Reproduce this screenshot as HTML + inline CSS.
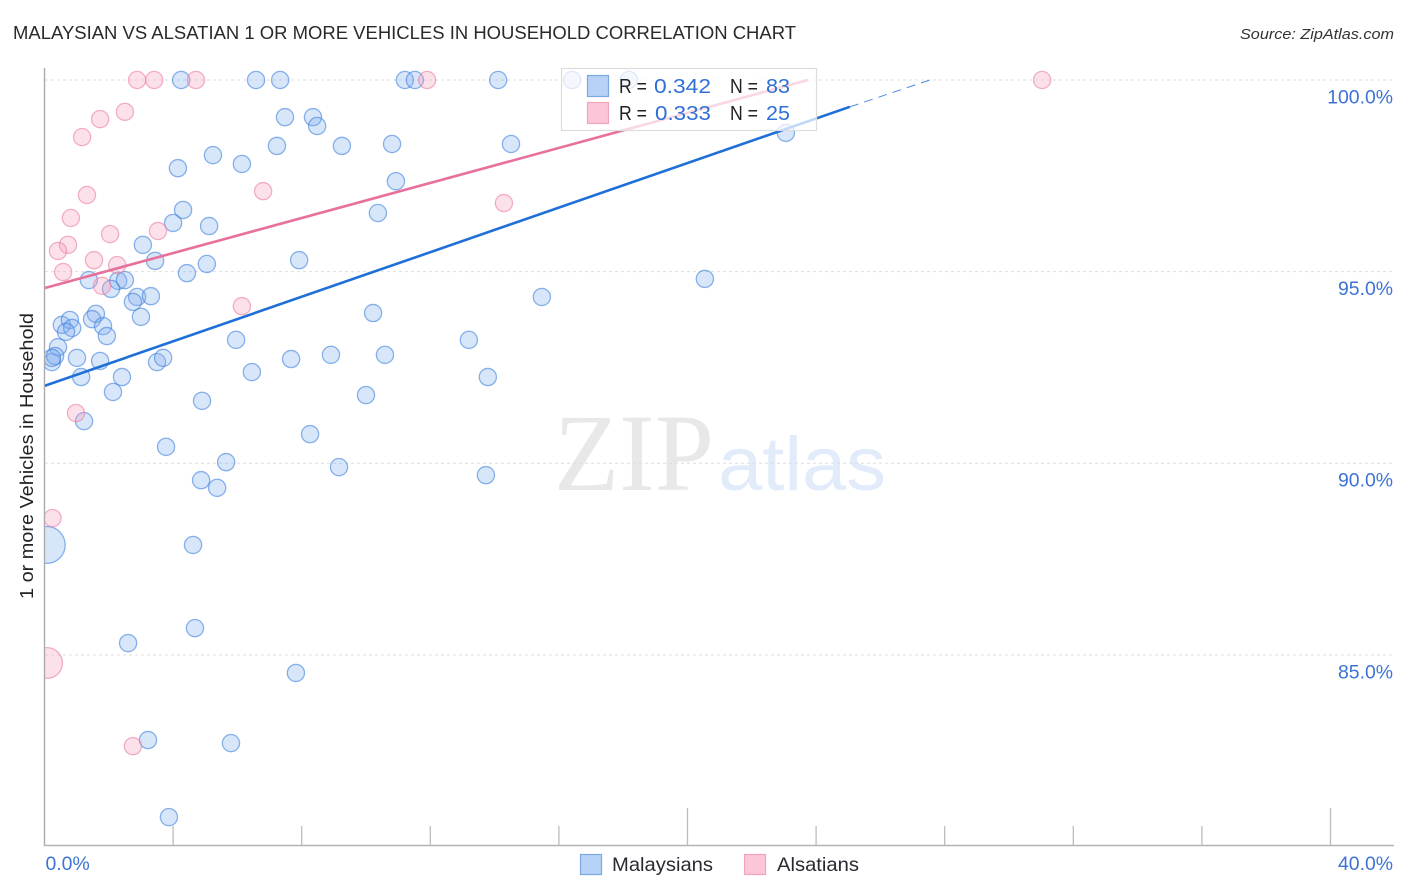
<!DOCTYPE html>
<html lang="en">
<head>
<meta charset="utf-8">
<title>Malaysian vs Alsatian 1 or More Vehicles in Household Correlation Chart</title>
<style>
html,body{margin:0;padding:0;background:#fff;width:1406px;height:892px;overflow:hidden}
svg{display:block;font-family:"Liberation Sans",sans-serif}
</style>
</head>
<body>
<svg id="chart" xmlns="http://www.w3.org/2000/svg" width="1406" height="892" viewBox="0 0 1406 892">
  <defs><clipPath id="plot-clip"><rect x="45" y="60" width="1349" height="785"/></clipPath></defs>
  <text x="13" y="39" font-size="18.5" fill="#2a2a2a" textLength="783" lengthAdjust="spacingAndGlyphs">MALAYSIAN VS ALSATIAN 1 OR MORE VEHICLES IN HOUSEHOLD CORRELATION CHART</text>
  <text x="1394" y="39" font-size="15" font-style="italic" fill="#333" text-anchor="end" textLength="154" lengthAdjust="spacingAndGlyphs">Source: ZipAtlas.com</text>
  <g>
    <text x="554" y="490" font-family="'Liberation Serif',serif" font-size="110" fill="#e8e8e8" textLength="160" lengthAdjust="spacingAndGlyphs">ZIP</text>
    <text x="718" y="490" font-size="76" fill="#e2ebf9" textLength="168" lengthAdjust="spacingAndGlyphs">atlas</text>
  </g>
  <g id="grid"></g>
  <g id="marks-blue" clip-path="url(#plot-clip)"></g>
  <g id="marks-pink" clip-path="url(#plot-clip)"></g>
  <g id="trends"></g>
  <g id="axes"></g>
  <text transform="translate(33,456) rotate(-90)" font-size="18.5" fill="#222" text-anchor="middle" textLength="286" lengthAdjust="spacingAndGlyphs">1 or more Vehicles in Household</text>
  <g>
    <rect x="561.5" y="68.5" width="255" height="62" fill="#fff" fill-opacity="0.72" stroke="#dcdcdc" stroke-width="1.2"/>
    <rect x="587.5" y="75.5" width="21" height="21" fill="#b7d2f7" stroke="#7aa8e2" stroke-width="1.2"/>
    <rect x="587.5" y="102.5" width="21" height="21" fill="#fcc6d8" stroke="#f2a3bd" stroke-width="1.2"/>
    <g font-size="20">
      <text x="619" y="93" fill="#222" textLength="28" lengthAdjust="spacingAndGlyphs">R =</text>
      <text x="654" y="93" fill="#2f6fd6" textLength="57" lengthAdjust="spacingAndGlyphs">0.342</text>
      <text x="730" y="93" fill="#222" textLength="28" lengthAdjust="spacingAndGlyphs">N =</text>
      <text x="766" y="93" fill="#2f6fd6" textLength="24" lengthAdjust="spacingAndGlyphs">83</text>
      <text x="619" y="120" fill="#222" textLength="28" lengthAdjust="spacingAndGlyphs">R =</text>
      <text x="655" y="120" fill="#2f6fd6" textLength="56" lengthAdjust="spacingAndGlyphs">0.333</text>
      <text x="730" y="120" fill="#222" textLength="28" lengthAdjust="spacingAndGlyphs">N =</text>
      <text x="766" y="120" fill="#2f6fd6" textLength="24" lengthAdjust="spacingAndGlyphs">25</text>
    </g>
  </g>
  <g>
    <rect x="580.5" y="854.5" width="21" height="20" fill="#b7d2f7" stroke="#7aa8e2" stroke-width="1.2"/>
    <text x="612" y="871" font-size="19.5" fill="#2a2a33" textLength="101" lengthAdjust="spacingAndGlyphs">Malaysians</text>
    <rect x="744.5" y="854.5" width="21" height="20" fill="#fcc6d8" stroke="#f2a3bd" stroke-width="1.2"/>
    <text x="777" y="871" font-size="19.5" fill="#2a2a33" textLength="82" lengthAdjust="spacingAndGlyphs">Alsatians</text>
  </g>
</svg>
<script>
const yTicks = [100, 95, 90, 85];
const yTickLabels = ["100.0%", "95.0%", "90.0%", "85.0%"];
const xTicks = [0, 4, 8, 12, 16, 20, 24, 28, 32, 36, 40];
const xMajorTicks = [20, 40];
const xEndLabels = ["0.0%", "40.0%"];

const blueX = [4.25,6.58,7.33,11.21,11.52,14.11,16.41,18.18,7.48,8.35,8.48,7.23,9.25,10.81,14.51,23.06,5.24,6.14,4.15,10.93,4.31,10.37,4.00,5.12,3.06,3.44,7.92,4.43,5.05,1.38,2.29,2.50,20.54,2.07,2.88,2.75,3.31,15.47,3.00,1.60,1.48,10.22,0.54,0.79,0.86,0.67,1.82,1.94,5.96,13.20,0.42,0.23,0.33,0.23,1.01,1.73,3.50,3.69,7.67,8.91,10.59,6.45,1.14,2.41,13.79,2.13,4.90,10.00,1.23,8.26,3.78,5.65,9.16,4.87,13.73,5.37,4.62,0.07,4.68,2.60,7.82,3.22,5.80,3.87];
const blueY = [100,100,100,100,100,100,100,100,99.03,99.03,98.80,98.28,98.28,98.33,98.33,98.62,98.04,97.81,97.70,97.36,96.61,96.53,96.27,96.19,95.70,95.28,95.30,94.96,95.20,94.78,94.76,94.78,94.81,94.55,94.34,94.21,94.36,94.34,93.82,93.90,93.76,93.92,93.61,93.74,93.53,93.43,93.58,93.32,93.22,93.22,93.03,92.64,92.80,92.75,92.75,92.67,92.64,92.75,92.72,92.83,92.83,92.38,92.25,92.25,92.25,91.86,91.63,91.78,91.10,90.76,90.43,90.03,89.90,89.56,89.69,89.36,87.87,87.87,85.70,85.31,84.53,82.78,82.70,80.77];
const blueWeights = [1,1,1,1,1,1,1,1,1,1,1,1,1,1,1,1,1,1,1,1,1,1,1,1,1,1,1,1,1,1,1,1,1,1,1,1,1,1,1,1,1,1,1,1,1,1,1,1,1,1,1,1,1,1,1,1,1,1,1,1,1,1,1,1,1,1,1,1,1,1,1,1,1,1,1,1,1,4.6,1,1,1,1,1,1];

const pinkX = [2.88,3.41,4.71,11.90,31.03,2.50,1.73,1.17,1.32,0.82,6.80,14.29,3.53,2.04,0.73,0.42,0.58,1.54,2.26,1.79,6.14,0.98,0.25,0.08,2.75];
const pinkY = [100,100,100,100,100,99.17,98.98,98.51,97.00,96.40,97.10,96.79,96.06,95.98,95.70,95.54,94.99,95.30,95.17,94.63,94.10,91.31,88.57,84.79,82.62];
const pinkWeights = [1,1,1,1,1,1,1,1,1,1,1,1,1,1,1,1,1,1,1,1,1,1,1,3.2,1];

const blueTrendX = [0, 25.05];
const blueTrendY = [92.02, 99.30];
const blueTrendDashX = [25.05, 27.54];
const blueTrendDashY = [99.30, 100];
const pinkTrendX = [0, 23.75];
const pinkTrendY = [94.57, 100];

const NS = "http://www.w3.org/2000/svg";
const xScale = v => 44.5 + v * 32.15;
const yScale = v => 80 + (100 - v) * 38.33;
const rScale = w => 8.6 * Math.sqrt(w);

function make(tag, parentId, attrs) {
  const el = document.createElementNS(NS, tag);
  for (const k in attrs) el.setAttribute(k, attrs[k]);
  document.getElementById(parentId).appendChild(el);
  return el;
}

yTicks.forEach(function (t) {
  const el = make("line", "grid", {x1: 45, x2: 1394, y1: yScale(t), y2: yScale(t), stroke: "#dedede", "stroke-width": 1, "stroke-dasharray": "3 3"});
  
  
});

function drawPoints(xs, ys, ws, parentId, fill, stroke, name) {
  xs.forEach(function (x, i) {
    const c = make("circle", parentId, {cx: xScale(x), cy: yScale(ys[i]), r: rScale(ws[i]), fill: fill, "fill-opacity": 0.3, stroke: stroke, "stroke-opacity": 0.6, "stroke-width": 1.3});
    
    
  });
}
drawPoints(blueX, blueY, blueWeights, "marks-blue", "#7fadf0", "#3f82dc", "malaysians-point");
drawPoints(pinkX, pinkY, pinkWeights, "marks-pink", "#f79ab8", "#ea7fa3", "alsatians-point");

const blueTrend = make("line", "trends", {x1: xScale(blueTrendX[0]), y1: yScale(blueTrendY[0]), x2: xScale(blueTrendX[1]), y2: yScale(blueTrendY[1]), stroke: "#1f6fd9", "stroke-width": 2.6});


const blueDash = make("line", "trends", {x1: xScale(blueTrendDashX[0]), y1: yScale(blueTrendDashY[0]), x2: xScale(blueTrendDashX[1]), y2: yScale(blueTrendDashY[1]), stroke: "#1f6fd9", "stroke-width": 1, "stroke-dasharray": "9 6", "stroke-opacity": 0.8});


const pinkTrend = make("line", "trends", {x1: xScale(pinkTrendX[0]), y1: yScale(pinkTrendY[0]), x2: xScale(pinkTrendX[1]), y2: yScale(pinkTrendY[1]), stroke: "#e8709d", "stroke-width": 2.6});



const yAxis = make("line", "axes", {x1: 44.5, x2: 44.5, y1: 68, y2: 846, stroke: "#ababab", "stroke-width": 1.4});


const xAxis = make("line", "axes", {x1: 44, x2: 1394, y1: 845.5, y2: 845.5, stroke: "#b4b4b4", "stroke-width": 1.4});



xTicks.slice(1).forEach(function (t) {
  const major = xMajorTicks.indexOf(t) >= 0;
  const tk = make("line", "axes", {x1: xScale(t), x2: xScale(t), y1: major ? 808 : 826, y2: 845, stroke: "#bcbcbc", "stroke-width": 1.3});
  
  
});

yTicks.forEach(function (t, i) {
  const lb = make("text", "axes", {x: 1393, y: yScale(t) + 23.4, "font-size": 19.4, fill: "#3d73d6", "text-anchor": "end"});
  
  
  lb.textContent = yTickLabels[i];
});

const x0Label = make("text", "axes", {x: xScale(0) + 1, y: 870, "font-size": 19.4, fill: "#3d73d6"});


x0Label.textContent = xEndLabels[0];
const x40Label = make("text", "axes", {x: 1393, y: 870, "font-size": 19.4, fill: "#3d73d6", "text-anchor": "end"});


x40Label.textContent = xEndLabels[1];
</script>
</body>
</html>
